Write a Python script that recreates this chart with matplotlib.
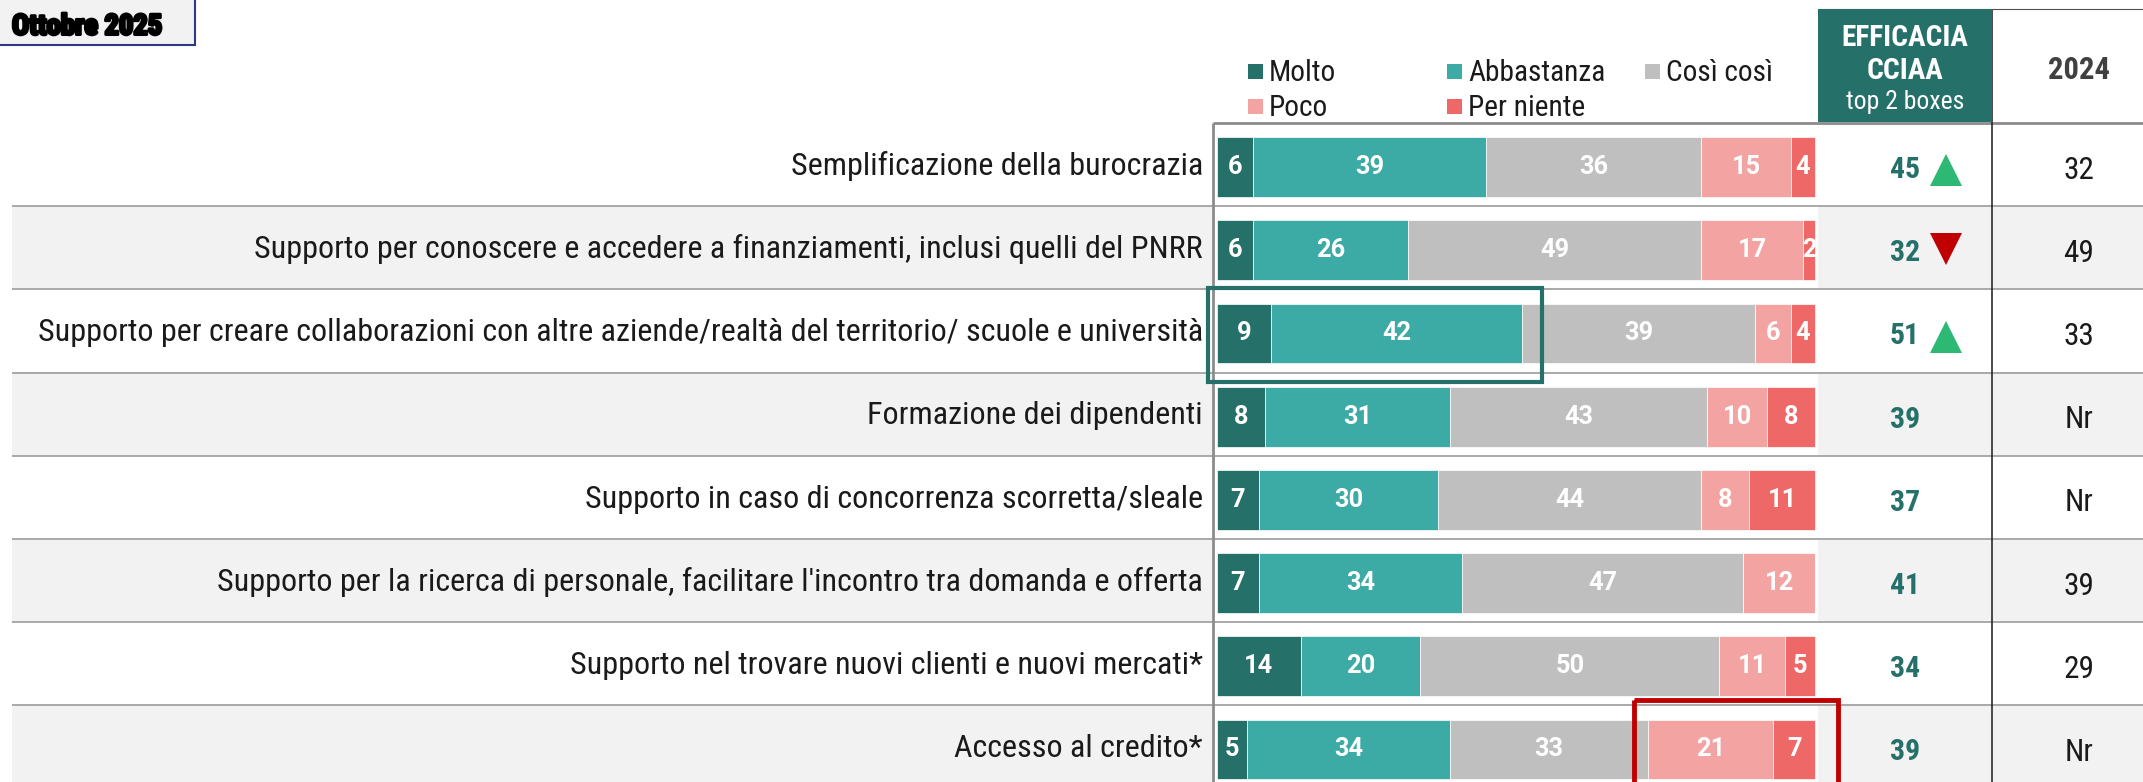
import matplotlib
matplotlib.use('Agg')
import matplotlib.pyplot as plt
from matplotlib.patches import Rectangle
from matplotlib import font_manager as fm
import matplotlib.patheffects as pe
import numpy as np

# ---------------- data ----------------
categories = [
    "Semplificazione della burocrazia",
    "Supporto per conoscere e accedere a finanziamenti, inclusi quelli del PNRR",
    "Supporto per creare collaborazioni con altre aziende/realtà del territorio/ scuole e università",
    "Formazione dei dipendenti",
    "Supporto in caso di concorrenza scorretta/sleale",
    "Supporto per la ricerca di personale, facilitare l'incontro tra domanda e offerta",
    "Supporto nel trovare nuovi clienti e nuovi mercati*",
    "Accesso al credito*",
]
molto = [6, 6, 9, 8, 7, 7, 14, 5]
abbastanza = [39, 26, 42, 31, 30, 34, 20, 34]
cosi_cosi = [36, 49, 39, 43, 44, 47, 50, 33]
poco = [15, 17, 6, 10, 8, 12, 11, 21]
per_niente = [4, 2, 4, 8, 11, 0, 5, 7]
top2 = [45, 32, 51, 39, 37, 41, 34, 39]
trend = ['up', 'down', 'up', '', '', '', '', '']
val_2024 = ['32', '49', '33', 'Nr', 'Nr', '39', '29', 'Nr']
series_names = ['Molto', 'Abbastanza', 'Così così', 'Poco', 'Per niente']
series_colors = ['#26706a', '#3caaa5', '#bfbfbf', '#f4a3a3', '#ee6868']

# ---------------- fonts ----------------
names = {f.name for f in fm.fontManager.ttflist}
def pick(prefs):
    for p in prefs:
        if p in names:
            return p
    return 'DejaVu Sans'
COND = pick(['Roboto Condensed', 'Liberation Sans Narrow', 'Open Sans Condensed',
             'Roboto', 'Liberation Sans', 'DejaVu Sans'])
BARF = pick(['Roboto', 'Open Sans', 'DejaVu Sans'])
HEAVY = COND

# ---------------- figure / coordinates ----------------
W, H, DPI = 2143, 782, 100
fig = plt.figure(figsize=(W / DPI, H / DPI), dpi=DPI)
fig.patch.set_facecolor('white')
ax = fig.add_axes([0, 0, 1, 1])
PX0, PXS = 1217, 5.98      # pixel of value 0, pixels per percentage point
ROW0, ROWH = 123, 83.2     # pixel of top border, row height
def X(px): return (px - PX0) / PXS
def Y(py): return (py - ROW0) / ROWH - 0.5
ax.set_xlim(X(0), X(W))
ax.set_ylim(Y(H), Y(0))
ax.axis('off')

renderer = fig.canvas.get_renderer()
def fit(text, target_px, family, weight='normal', base=20):
    t = fig.text(0, 0, text, fontsize=base, family=family, weight=weight)
    w = t.get_window_extent(renderer).width
    t.remove()
    return base * target_px / w

n = len(categories)
ypos = np.arange(n)

LBL_FS = fit(categories[2], 1164, COND)
LEG_FS = fit('Abbastanza', 137, COND)
OTT_FS = fit('Ottobre 2025', 150, HEAVY, 'bold')
EFF_FS = fit('EFFICACIA', 127, COND, 'bold')
TOP_FS = fit('top 2 boxes', 118, COND)
Y24_FS = fit('2024', 62, COND, 'bold')
BAR_FS = fit('30', 29, BARF, 'bold')
T2_FS = fit('37', 30, COND, 'bold')

# ---------------- backgrounds & grid ----------------
for i in range(n):
    if i % 2 == 1:
        ax.add_patch(Rectangle((X(12), i - 0.5), X(W) - X(12), 1,
                               fc='#f2f2f2', ec='none', zorder=0))
ax.add_patch(Rectangle((X(1213), -0.5), X(1818) - X(1213), 10,
                       fc='white', ec='none', zorder=0.5))
ax.hlines([i + 0.5 for i in range(n - 1)], X(12), X(W), colors='#a3a3a3', lw=1.3, zorder=1)
ax.hlines(-0.5, X(1213), X(W), colors='#8c8c8c', lw=2.0, zorder=3)
ax.vlines(X(1213), -0.5, Y(H), colors='#8c8c8c', lw=2.0, zorder=3)
ax.vlines(X(1992), Y(9), Y(H), colors='#1a1a1a', lw=1.1, zorder=3)
ax.hlines(Y(9), X(1818), X(W), colors='#505050', lw=0.8, zorder=3)

# ---------------- stacked bars ----------------
series = [molto, abbastanza, cosi_cosi, poco, per_niente]
left = np.zeros(n)
for name, vals, col in zip(series_names, series, series_colors):
    vals = np.array(vals)
    cont = ax.barh(ypos + 0.03, vals, left=left, height=0.72, color=col,
                   edgecolor='white', linewidth=0.5, zorder=2, label=name)
    ax.bar_label(cont, labels=[str(v) if v > 0 else '' for v in vals],
                 label_type='center', color='white', fontweight='bold',
                 fontsize=BAR_FS, family=BARF)
    left += vals

# ---------------- category labels ----------------
for i, c in enumerate(categories):
    ax.text(X(1203), i + 0.02, c, ha='right', va='center', fontsize=LBL_FS,
            family=COND, color='#1a1a1a', zorder=3)

# ---------------- top-2 and 2024 columns ----------------
for i in range(n):
    ax.text(X(1905), i + 0.03, str(top2[i]), ha='center', va='center_baseline',
            fontsize=T2_FS, fontweight='bold', family=COND, color='#26706a', zorder=3)
    if trend[i] == 'up':
        ax.plot(X(1946), i + 0.07, marker='^', ms=23.5, mew=0, color='#2db873',
                ls='none', zorder=3)
    elif trend[i] == 'down':
        ax.plot(X(1946), i + 0.02, marker='v', ms=23.5, mew=0, color='#c00000',
                ls='none', zorder=3)
    ax.text(X(2079), i + 0.03, val_2024[i], ha='center', va='center_baseline',
            fontsize=LBL_FS * 0.97, family=COND, color='#1a1a1a', zorder=3)

# ---------------- header ----------------
ax.add_patch(Rectangle((X(1818), Y(9)), X(1992) - X(1818), Y(122) - Y(9),
                       fc='#26706a', ec='none', zorder=3))
ax.text(X(1905), Y(38), 'EFFICACIA', ha='center', va='center', color='white',
        fontsize=EFF_FS, fontweight='bold', family=COND, zorder=4)
ax.text(X(1905), Y(71), 'CCIAA', ha='center', va='center', color='white',
        fontsize=EFF_FS, fontweight='bold', family=COND, zorder=4)
ax.text(X(1905), Y(102), 'top 2 boxes', ha='center', va='center', color='white',
        fontsize=TOP_FS, family=COND, zorder=4)
ax.text(X(2079), Y(70), '2024', ha='center', va='center', color='#404040',
        fontsize=Y24_FS, fontweight='bold', family=COND, zorder=4)

# ---------------- legend ----------------
leg_pos = [(1248, 72), (1447, 72), (1645, 72), (1248, 107), (1447, 107)]
for (px, py), name, col in zip(leg_pos, series_names, series_colors):
    ax.add_patch(Rectangle((X(px), Y(py - 7.5)), X(px + 15) - X(px),
                           Y(py + 7.5) - Y(py - 7.5), fc=col, ec='none', zorder=3))
    ax.text(X(px + 21), Y(py + 1), name, ha='left', va='center',
            fontsize=LEG_FS, family=COND, color='#1a1a1a', zorder=3)

# ---------------- title tag ----------------
ax.add_patch(Rectangle((X(-5), Y(-5)), X(195) - X(-5), Y(45) - Y(-5),
                       fc='#f2f2f2', ec='#2e3a80', lw=1.5, zorder=3))
ax.text(X(12), Y(24), 'Ottobre 2025', ha='left', va='center_baseline', fontsize=OTT_FS,
        family=HEAVY, fontweight='bold', color='black', zorder=4,
        path_effects=[pe.withStroke(linewidth=2.2, foreground='black')])

# ---------------- highlight boxes ----------------
ax.add_patch(Rectangle((X(1208), Y(288)), X(1542) - X(1208), Y(382) - Y(288),
                       fill=False, ec='#26706a', lw=3.0, zorder=5))
ax.add_patch(Rectangle((X(1634), Y(700)), X(1838) - X(1634), Y(820) - Y(700),
                       fill=False, ec='#c00000', lw=3.5, zorder=5))

fig.savefig('out.png', dpi=DPI, facecolor='white')
